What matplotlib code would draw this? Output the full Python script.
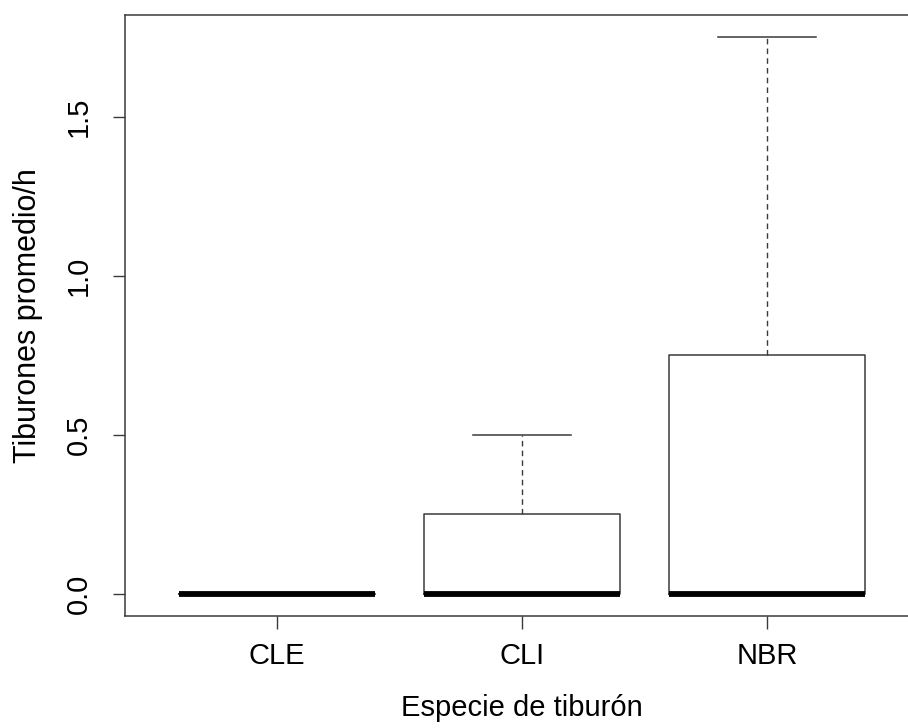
import matplotlib
matplotlib.use("Agg")
import matplotlib.pyplot as plt

# Boxplot statistics per shark species (sightings per hour)
especies = ["CLE", "CLI", "NBR"]
q1 = [0.0, 0.0, 0.0]
mediana = [0.0, 0.0, 0.0]
q3 = [0.0, 0.25, 0.75]
bigote_inf = [0.0, 0.0, 0.0]
bigote_sup = [0.0, 0.5, 1.75]
yticks = [0.0, 0.5, 1.0, 1.5]

plt.rcParams['font.family'] = ['Liberation Sans', 'DejaVu Sans']

fig = plt.figure(figsize=(9.08, 7.28), dpi=100)
ax = fig.add_axes([125 / 908, 112 / 728, 794 / 908, 601 / 728])

stats = []
for i, name in enumerate(especies):
    stats.append({
        "label": name,
        "q1": q1[i], "med": mediana[i], "q3": q3[i],
        "whislo": bigote_inf[i], "whishi": bigote_sup[i],
        "fliers": [],
    })

linecol = "#3a3a3a"
ax.bxp(stats, positions=[1, 2, 3], widths=0.8, showfliers=False,
       boxprops=dict(color=linecol, linewidth=1.1),
       medianprops=dict(color="black", linewidth=4.2, solid_capstyle="butt"),
       whiskerprops=dict(color=linecol, linewidth=1.0, linestyle=(0, (4, 3))),
       capprops=dict(color=linecol, linewidth=1.1),
       capwidths=0.4)

ax.set_xlim(0.38, 3.62)
ax.set_ylim(-0.07, 1.82)
ax.set_yticks(yticks)
ax.set_yticklabels(["0.0", "0.5", "1.0", "1.5"], rotation=90, va="center",
                   fontsize=21)
ax.set_xticks([1, 2, 3])
ax.set_xticklabels(especies, fontsize=21)

for s in ax.spines.values():
    s.set_color(linecol)
    s.set_linewidth(1.1)

ax.tick_params(axis="both", direction="out", length=9, width=1.0,
               color=linecol)
ax.tick_params(axis="y", pad=14)
ax.tick_params(axis="x", pad=10)

ax.set_xlabel("Especie de tiburón", fontsize=21, labelpad=17)
ax.set_ylabel("Tiburones promedio/h", fontsize=22, labelpad=16)

fig.savefig("out.png", dpi=100)
